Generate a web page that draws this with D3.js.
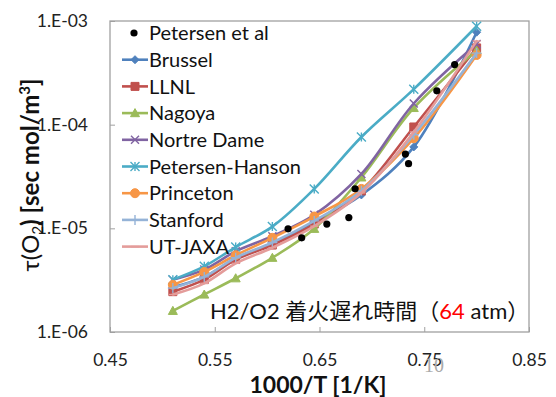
<!DOCTYPE html>
<html><head><meta charset="utf-8">
<script src="https://cdn.jsdelivr.net/npm/d3@7"></script>
<style>body{margin:0;background:#fff}svg{display:block}</style>
</head><body>
<svg id="c" width="556" height="397"></svg>
<script>
const xVals = [0.51, 0.54, 0.57, 0.605, 0.645, 0.69, 0.74, 0.80];
const brussel   = [2.7e-6, 3.4e-6, 5.1e-6, 7.2e-6, 1.15e-5, 2.1e-5, 6.1e-5, 7.8e-4];
const llnl      = [2.45e-6, 3.2e-6, 5.0e-6, 6.9e-6, 1.1e-5, 2.3e-5, 9.5e-5, 5.5e-4];
const nagoya    = [1.6e-6, 2.3e-6, 3.3e-6, 5.2e-6, 9.9e-6, 3.1e-5, 1.45e-4, 5.2e-4];
const nortre    = [3.2e-6, 4.0e-6, 6.0e-6, 8.4e-6, 1.35e-5, 3.35e-5, 1.6e-4, 6.0e-4];
const petHanson = [3.2e-6, 4.3e-6, 6.6e-6, 1.04e-5, 2.4e-5, 7.6e-5, 2.2e-4, 8.9e-4];
const princeton = [2.85e-6, 3.8e-6, 5.5e-6, 8.1e-6, 1.3e-5, 2.4e-5, 7.4e-5, 4.7e-4];
const stanford  = [2.65e-6, 3.4e-6, 5.2e-6, 7.3e-6, 1.18e-5, 2.3e-5, 8.0e-5, 4.9e-4];
const utjaxa    = [2.3e-6, 2.95e-6, 4.6e-6, 6.5e-6, 1.05e-5, 2.2e-5, 8.5e-5, 6.4e-4];
const expX = [0.620, 0.633, 0.657, 0.678, 0.684, 0.732, 0.735, 0.762, 0.779];
const expY = [9.9e-6, 8.1e-6, 1.1e-5, 1.27e-5, 2.41e-5, 5.2e-5, 4.2e-5, 2.12e-4, 3.8e-4];
const seriesNames = ["Brussel","LLNL","Nagoya","Nortre Dame","Petersen-Hanson","Princeton","Stanford","UT-JAXA"];
const expName = "Petersen et al";
const yTicks = [1e-6, 1e-5, 1e-4, 1e-3];
const yTickLabels = ["1.E-06","1.E-05","1.E-04","1.E-03"];
const xTicks = [0.45, 0.55, 0.65, 0.75, 0.85];
const xTickLabels = ["0.45","0.55","0.65","0.75","0.85"];

const colors = ["#4F81BD","#C0504D","#9BBB59","#8064A2","#4BACC6","#F79646","#95B3D7","#E49C9A"];
const markers = ["diamond","square","triangle","x","star","circle","plus","dash"];
const data = [brussel, llnl, nagoya, nortre, petHanson, princeton, stanford, utjaxa];

const svg = d3.select("#c");
const L=110,R=529,T=21,B=332;
const x = d3.scaleLinear().domain([0.45,0.85]).range([L,R]);
const y = d3.scaleLog().domain([1e-6,1e-3]).range([B,T]);
const FONT = "Lato, 'Noto Sans', sans-serif";

// frame
svg.append("rect").attr("x",L).attr("y",T).attr("width",R-L).attr("height",B-T)
  .attr("fill","none").attr("stroke","#a0a0a0").attr("stroke-width",1.3);

const yAxis = d3.axisLeft(y).tickValues(yTicks).tickFormat((d,i)=>yTickLabels[i])
  .tickSizeInner(-5).tickSizeOuter(0).tickPadding(22);
const gy = svg.append("g").attr("transform",`translate(${L},0)`).call(yAxis);
gy.select(".domain").remove();
gy.selectAll("line").attr("stroke","#a0a0a0");
gy.selectAll("text").attr("font-family",FONT).attr("font-size",17.5).attr("fill","#222");

const xAxis = d3.axisBottom(x).tickValues(xTicks).tickFormat((d,i)=>xTickLabels[i])
  .tickSizeInner(-5).tickSizeOuter(0).tickPadding(22);
const gx = svg.append("g").attr("transform",`translate(0,${B})`).call(xAxis);
gx.select(".domain").remove();
gx.selectAll("line").attr("stroke","#a0a0a0");
gx.selectAll("text").attr("font-family",FONT).attr("font-size",17.5).attr("fill","#222");

function markerPath(type, s){
  const h=s/2;
  switch(type){
    case "diamond": return `M0,${-h}L${h},0L0,${h}L${-h},0Z`;
    case "square": return `M${-h},${-h}H${h}V${h}H${-h}Z`;
    case "triangle": return `M0,${-h}L${h},${h*0.8}L${-h},${h*0.8}Z`;
    case "x": return `M${-h},${-h}L${h},${h}M${-h},${h}L${h},${-h}`;
    case "star": return `M${-h},${-h}L${h},${h}M${-h},${h}L${h},${-h}M0,${-h}V${h}`;
    case "circle": return d3.symbol(d3.symbolCircle, s*s*0.785)();
    case "plus": return `M${-h},0H${h}M0,${-h}V${h}`;
    case "dash": return `M${-h},0H${h}`;
  }
}
const filled = t => ["diamond","square","triangle","circle"].includes(t);
const msize = {diamond:8,square:8,triangle:9,x:8,star:9,circle:9,plus:10,dash:8};

const line = d3.line().x(d=>x(d[0])).y(d=>y(d[1])).curve(d3.curveCatmullRom.alpha(0.5));

data.forEach((vals,i)=>{
  const pts = xVals.map((xv,j)=>[xv, vals[j]]);
  const g = svg.append("g");
  g.append("path").attr("d",line(pts)).attr("fill","none").attr("stroke",colors[i])
    .attr("stroke-width",2.6).attr("stroke-linejoin","round").attr("stroke-linecap","round");
  g.selectAll("path.m").data(pts).enter().append("path").attr("class","m")
    .attr("transform",d=>`translate(${x(d[0])},${y(d[1])})`)
    .attr("d",markerPath(markers[i], msize[markers[i]]))
    .attr("fill",filled(markers[i])?colors[i]:"none")
    .attr("stroke",colors[i]).attr("stroke-width",filled(markers[i])?1:1.4);
});

// experimental points
svg.append("g").selectAll("circle").data(expX.map((v,i)=>[v,expY[i]])).enter().append("circle")
  .attr("cx",d=>x(d[0])).attr("cy",d=>y(d[1])).attr("r",3.6).attr("fill","#000");

// legend
const legY0 = 33, legDY = 26.7;
const lg = svg.append("g");
lg.append("circle").attr("cx",134).attr("cy",legY0).attr("r",3.6).attr("fill","#000");
lg.append("text").attr("x",149).attr("y",legY0).attr("dy","0.36em").text(expName)
  .attr("font-family",FONT).attr("font-size",20).attr("fill","#111");
seriesNames.forEach((n,i)=>{
  const yy = legY0 + legDY*(i+1);
  lg.append("line").attr("x1",122).attr("x2",148).attr("y1",yy).attr("y2",yy)
    .attr("stroke",colors[i]).attr("stroke-width",2.6);
  lg.append("path").attr("transform",`translate(135,${yy})`)
    .attr("d",markerPath(markers[i], msize[markers[i]]))
    .attr("fill",filled(markers[i])?colors[i]:"none")
    .attr("stroke",colors[i]).attr("stroke-width",filled(markers[i])?1:1.4);
  lg.append("text").attr("x",149).attr("y",yy).attr("dy","0.36em").text(n)
    .attr("font-family",FONT).attr("font-size",20).attr("fill","#111");
});

// axis titles
const yt = svg.append("text").attr("transform","translate(39,175) rotate(-90)")
  .attr("text-anchor","middle").attr("font-family",FONT).attr("font-size",24).attr("font-weight","bold").attr("fill","#111");
yt.append("tspan").text("τ(O").attr("font-weight","normal");
yt.append("tspan").text("2").attr("font-size",15).attr("dy",4).attr("font-weight","normal");
yt.append("tspan").text(") [sec mol/m").attr("dy",-4);
yt.append("tspan").text("3").attr("font-size",15).attr("dy",-9);
yt.append("tspan").text("]").attr("dy",9);

svg.append("text").attr("x",318).attr("y",393).attr("text-anchor","middle")
  .attr("font-family",FONT).attr("font-size",23).attr("font-weight","bold").attr("fill","#111")
  .text("1000/T [1/K]");

// annotation
const an = svg.append("text").attr("x",210).attr("y",319)
  .attr("font-family","Lato, 'Noto Sans CJK JP', sans-serif").attr("font-size",22).attr("fill","#111");
an.append("tspan").text("H2/O2 着火遅れ時間（");
an.append("tspan").text("64").attr("fill","#FF0000");
an.append("tspan").text(" atm）");

// page number
svg.append("text").attr("x",434).attr("y",372).attr("text-anchor","middle")
  .attr("font-family","'Liberation Serif', serif").attr("font-size",20).attr("fill","#aaaaaa").text("10");
</script>
</body></html>
